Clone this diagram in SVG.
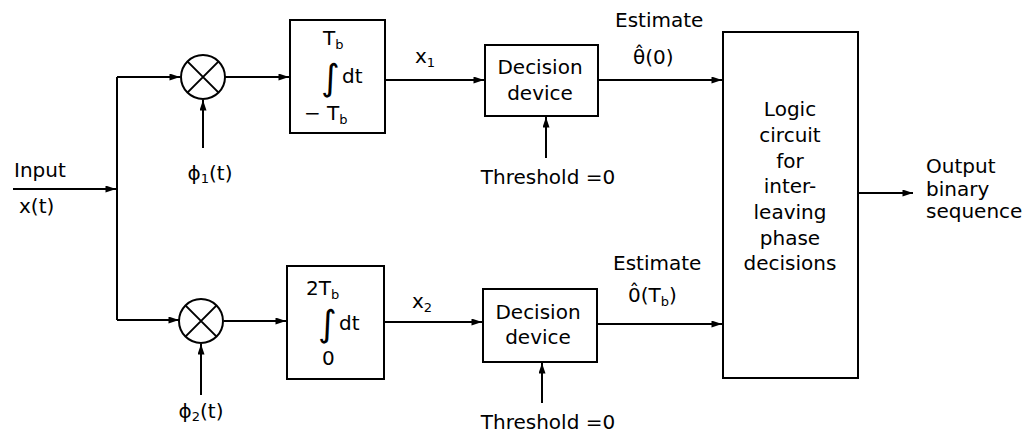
<svg xmlns="http://www.w3.org/2000/svg" width="1026" height="433" viewBox="0 0 1026 433">
<defs>
<marker id="ah" viewBox="0 0 12 8" refX="12" refY="4" markerWidth="12" markerHeight="7" markerUnits="userSpaceOnUse" orient="auto">
<path d="M0,0 L12,4 L0,8 Z" fill="#000"/>
</marker>
</defs>
<style>
.b{fill:#fff;stroke:#000;stroke-width:2}
.w{fill:none;stroke:#000;stroke-width:2}
.t{font-family:"DejaVu Sans","Liberation Sans",Arial,sans-serif;font-size:20px;fill:#000}
.c{text-anchor:middle}
.s{font-size:13px}
.i{font-family:"DejaVu Sans",sans-serif;font-size:36px}
</style>
<rect width="1026" height="433" fill="#fff"/>
<g id="connectors">
<path class="w" d="M13,189 H116" marker-end="url(#ah)"/>
<path class="w" d="M117,77 V320"/>
<path class="w" d="M117,77 H180" marker-end="url(#ah)"/>
<path class="w" d="M117,320 H179" marker-end="url(#ah)"/>
<path class="w" d="M203,148 V100" marker-end="url(#ah)"/>
<path class="w" d="M201,395 V344" marker-end="url(#ah)"/>
<path class="w" d="M225,77 H289" marker-end="url(#ah)"/>
<path class="w" d="M224,321 H286" marker-end="url(#ah)"/>
<path class="w" d="M385,80 H484" marker-end="url(#ah)"/>
<path class="w" d="M384,322 H482" marker-end="url(#ah)"/>
<path class="w" d="M546,158 V117" marker-end="url(#ah)"/>
<path class="w" d="M542,403 V363" marker-end="url(#ah)"/>
<path class="w" d="M598,80 H722" marker-end="url(#ah)"/>
<path class="w" d="M597,324 H722" marker-end="url(#ah)"/>
<path class="w" d="M858,193 H913" marker-end="url(#ah)"/>
</g>
<g id="input-label">
<text class="t" x="14" y="177">Input</text>
<text class="t" x="19" y="213">x(t)</text>
</g>
<g id="mult1">
<circle class="b" cx="203" cy="77" r="22"/>
<path class="w" d="M187.4,61.4 L218.6,92.6 M218.6,61.4 L187.4,92.6"/>
<text class="t c" x="210" y="180">ϕ<tspan class="s" dy="3">1</tspan><tspan dy="-3">(t)</tspan></text>
</g>
<g id="mult2">
<circle class="b" cx="201" cy="321" r="22"/>
<path class="w" d="M185.4,305.4 L216.6,336.6 M216.6,305.4 L185.4,336.6"/>
<text class="t c" x="201" y="418">ϕ<tspan class="s" dy="3">2</tspan><tspan dy="-3">(t)</tspan></text>
</g>
<g id="int1">
<rect class="b" x="290" y="20" width="95" height="113"/>
<text class="t" x="323" y="45">T<tspan class="s" dy="4">b</tspan></text>
<text class="i" x="321" y="90">∫</text>
<text class="t" x="342" y="83">dt</text>
<text class="t" x="304" y="120">− T<tspan class="s" dy="4">b</tspan></text>
</g>
<g id="int2">
<rect class="b" x="287" y="266" width="97" height="113"/>
<text class="t" x="306" y="295">2T<tspan class="s" dy="4">b</tspan></text>
<text class="i" x="318" y="336">∫</text>
<text class="t" x="339" y="330">dt</text>
<text class="t" x="322" y="365">0</text>
</g>
<g id="x-labels">
<text class="t" x="415" y="63">x<tspan class="s" dy="4">1</tspan></text>
<text class="t" x="412" y="308">x<tspan class="s" dy="4">2</tspan></text>
</g>
<g id="dec1">
<rect class="b" x="485" y="45" width="113" height="71"/>
<text class="t c" x="540" y="74">Decision</text>
<text class="t c" x="540" y="100">device</text>
<text class="t c" x="548" y="184">Threshold =0</text>
</g>
<g id="dec2">
<rect class="b" x="483" y="289" width="114" height="73"/>
<text class="t c" x="538" y="319">Decision</text>
<text class="t c" x="538" y="344">device</text>
<text class="t c" x="548" y="429">Threshold =0</text>
</g>
<g id="est1">
<text class="t" x="615" y="27">Estimate</text>
<text class="t" x="633" y="64">θ̂(0)</text>
</g>
<g id="est2">
<text class="t" x="613" y="270">Estimate</text>
<text class="t" x="628" y="302">0̂(T<tspan class="s" dy="4">b</tspan><tspan dy="-4">)</tspan></text>
</g>
<g id="logic">
<rect class="b" x="723" y="32" width="135" height="346"/>
<text class="t c" x="790" y="116">Logic</text>
<text class="t c" x="790" y="142">circuit</text>
<text class="t c" x="790" y="168">for</text>
<text class="t c" x="790" y="193">inter-</text>
<text class="t c" x="790" y="219">leaving</text>
<text class="t c" x="790" y="245">phase</text>
<text class="t c" x="790" y="270">decisions</text>
</g>
<g id="output">
<text class="t" x="926" y="173">Output</text>
<text class="t" x="926" y="196">binary</text>
<text class="t" x="926" y="218">sequence</text>
</g>
</svg>
